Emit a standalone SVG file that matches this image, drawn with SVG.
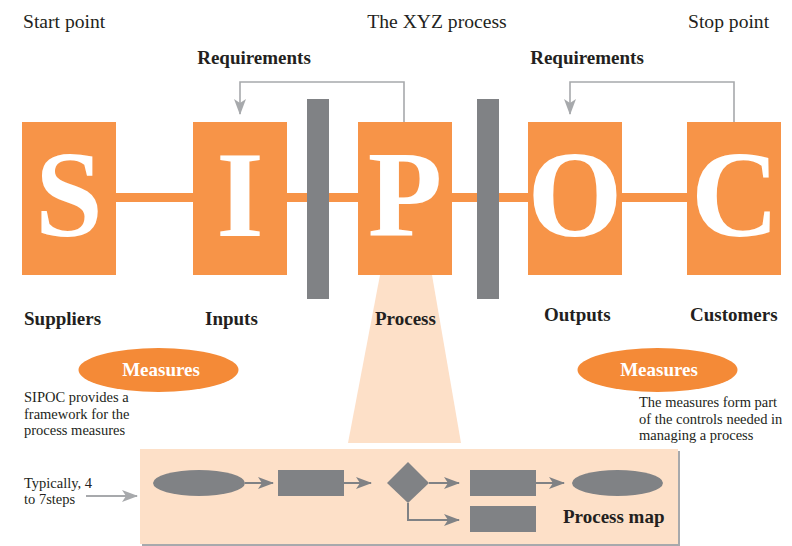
<svg xmlns="http://www.w3.org/2000/svg" width="792" height="546" viewBox="0 0 792 546">
  <defs>
    <style>
      text { font-family: "Liberation Serif", "Times New Roman", serif; fill: #231f20; }
      .title { font-size: 19.6px; }
      .head { font-size: 19px; font-weight: bold; }
      .note { font-size: 14.5px; }
      .big { font-size: 122px; font-weight: bold; fill: #ffffff; text-anchor: middle; }
      .meas { font-size: 19px; font-weight: bold; fill: #ffffff; text-anchor: middle; }
      .box { fill: #f79448; }
      .bar { fill: #808285; }
      .oval { fill: #f48a37; }
      .peach { fill: #fde0c8; }
      .shape { fill: #808285; }
      .req { fill: none; stroke: #a7a9ac; stroke-width: 1.6; }
      .flow { fill: none; stroke: #808285; stroke-width: 2; }
      .lead { fill: none; stroke: #a7a9ac; stroke-width: 2; }
    </style>
    <marker id="headLight" markerUnits="userSpaceOnUse" markerWidth="16" markerHeight="16" viewBox="0 0 16 16" refX="15" refY="8" orient="auto">
      <path d="M0,2 L16,8 L0,14 L4,8 Z" fill="#a7a9ac"/>
    </marker>
    <marker id="headDark" markerUnits="userSpaceOnUse" markerWidth="16" markerHeight="14" viewBox="0 0 16 14" refX="15" refY="7" orient="auto">
      <path d="M0,1 L16,7 L0,13 L4,7 Z" fill="#808285"/>
    </marker>
  </defs>

  <!-- headings -->
  <g id="headings">
    <text class="title" x="23" y="28">Start point</text>
    <text class="title" x="437" y="28" text-anchor="middle">The XYZ process</text>
    <text class="title" x="688" y="28">Stop point</text>
    <text class="head" x="254" y="63.5" text-anchor="middle">Requirements</text>
    <text class="head" x="587" y="63.5" text-anchor="middle">Requirements</text>
  </g>

  <!-- zoom-in wedge below P -->
  <polygon class="peach" points="380,275 432,275 461,443 348,443"/>

  <!-- chain line through the boxes -->
  <rect class="box" x="116" y="193" width="571" height="9"/>

  <!-- gates -->
  <rect id="gate-in" class="bar" x="307" y="99" width="22" height="200"/>
  <rect id="gate-out" class="bar" x="477" y="99" width="22" height="200"/>

  <g id="node-s">
    <rect class="box" x="22" y="122" width="94" height="153"/>
    <text class="big" x="69" y="236">S</text>
    <text class="head" x="24" y="325">Suppliers</text>
  </g>
  <g id="node-i">
    <rect class="box" x="193" y="122" width="94" height="153"/>
    <text class="big" x="240" y="236">I</text>
    <text class="head" x="205" y="325">Inputs</text>
  </g>
  <g id="node-p">
    <rect class="box" x="358" y="122" width="94" height="153"/>
    <text class="big" x="405" y="236">P</text>
    <text class="head" x="375" y="325">Process</text>
  </g>
  <g id="node-o">
    <rect class="box" x="528" y="122" width="94" height="153"/>
    <text class="big" x="575" y="236">O</text>
    <text class="head" x="544" y="321">Outputs</text>
  </g>
  <g id="node-c">
    <rect class="box" x="687" y="122" width="94" height="153"/>
    <text class="big" x="735" y="236">C</text>
    <text class="head" x="690" y="321">Customers</text>
  </g>

  <g id="measures-left">
    <ellipse class="oval" cx="158.5" cy="370" rx="80" ry="22"/>
    <text class="meas" x="161" y="375.5">Measures</text>
    <text class="note" x="24" y="402">SIPOC provides a</text>
    <text class="note" x="24" y="418.5">framework for the</text>
    <text class="note" x="24" y="435">process measures</text>
  </g>

  <g id="measures-right">
    <ellipse class="oval" cx="657.5" cy="370" rx="80" ry="22"/>
    <text class="meas" x="659" y="375.5">Measures</text>
    <text class="note" x="639" y="407">The measures form part</text>
    <text class="note" x="639" y="423.5">of the controls needed in</text>
    <text class="note" x="639" y="440">managing a process</text>
  </g>

  <g id="steps-note">
    <text class="note" x="24" y="488">Typically, 4</text>
    <text class="note" x="24" y="504">to 7steps</text>
  </g>

  <g id="process-map">
    <rect x="142" y="451" width="538" height="95" fill="#a7a9ac"/>
    <rect class="peach" x="140" y="449" width="538" height="95"/>
    <ellipse class="shape" cx="199" cy="483" rx="46" ry="13"/>
    <rect class="shape" x="278" y="470" width="66" height="26"/>
    <polygon class="shape" points="408,462 429,483 408,503 387,483"/>
    <rect class="shape" x="470" y="470" width="66" height="26"/>
    <ellipse class="shape" cx="617.5" cy="483" rx="45.5" ry="13"/>
    <rect class="shape" x="470" y="506" width="66" height="26"/>
    <text class="head" x="563" y="523">Process map</text>
  </g>

  <g id="connectors">
    <polyline class="req" points="404,122 404,82 240,82 240,114" marker-end="url(#headLight)"/>
    <polyline class="req" points="734,122 734,82 570,82 570,114" marker-end="url(#headLight)"/>
    <line class="lead" x1="86" y1="496" x2="137" y2="496" marker-end="url(#headLight)"/>
    <line class="flow" x1="245" y1="483" x2="273" y2="483" marker-end="url(#headDark)"/>
    <line class="flow" x1="344" y1="483" x2="371" y2="483" marker-end="url(#headDark)"/>
    <line class="flow" x1="429" y1="483" x2="459" y2="483" marker-end="url(#headDark)"/>
    <line class="flow" x1="536" y1="483" x2="564" y2="483" marker-end="url(#headDark)"/>
    <polyline class="flow" points="408,503 408,520 459,520" marker-end="url(#headDark)"/>
  </g>
</svg>
